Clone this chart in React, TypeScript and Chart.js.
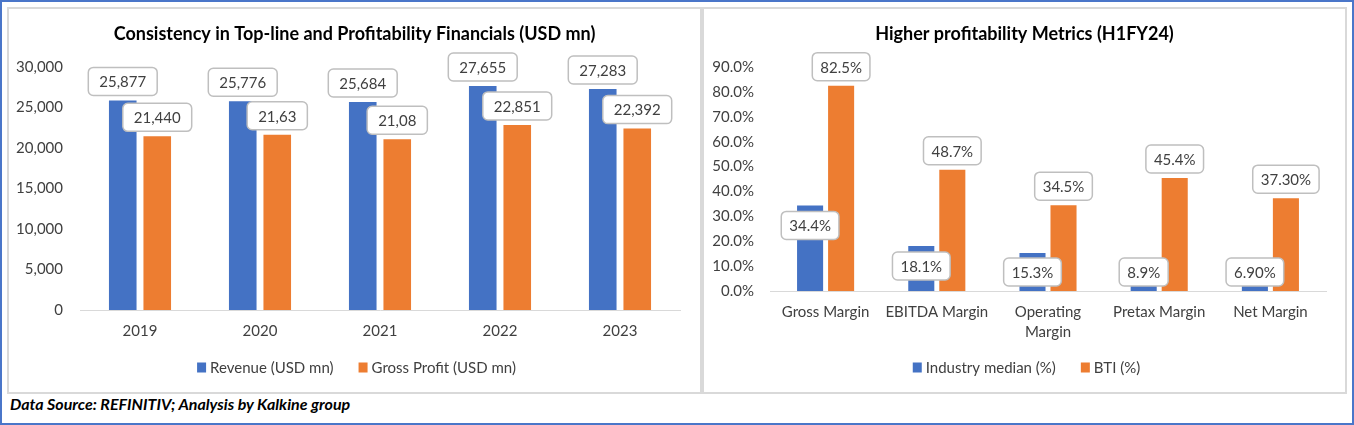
import React, { useEffect, useRef } from "react";
import { Chart, registerables } from "chart.js";

Chart.register(...registerables);

const FONT = "Lato, 'Noto Sans', sans-serif";

// ---- Left chart data ----
const years = ["2019", "2020", "2021", "2022", "2023"];
const revenue = [25877, 25776, 25684, 27655, 27283];
const grossProfit = [21440, 21635, 21085, 22851, 22392];
const revenueLabels = ["25,877", "25,776", "25,684", "27,655", "27,283"];
const grossProfitLabels = ["21,440", "21,63", "21,08", "22,851", "22,392"];

// ---- Right chart data ----
const metrics: (string | string[])[] = [
  "Gross Margin",
  "EBITDA Margin",
  ["Operating", "Margin"],
  "Pretax Margin",
  "Net Margin",
];
const industryMedian = [34.4, 18.1, 15.3, 8.9, 6.9];
const bti = [82.5, 48.7, 34.5, 45.4, 37.3];
const industryLabels = ["34.4%", "18.1%", "15.3%", "8.9%", "6.90%"];
const btiLabels = ["82.5%", "48.7%", "34.5%", "45.4%", "37.30%"];

const BLUE = "#4472C4";
const ORANGE = "#ED7D31";
const TEXT = "#404040";

function makeLabelPlugin(
  labelSets: string[][],
  modes: ("above" | "inside")[],
  padX: number
) {
  return {
    id: "boxLabels",
    afterDatasetsDraw(chart: any) {
      const ctx: CanvasRenderingContext2D = chart.ctx;
      const bottom = chart.chartArea.bottom;
      ctx.save();
      ctx.font = `15px ${FONT}`;
      ctx.textAlign = "center";
      ctx.textBaseline = "middle";
      labelSets.forEach((labels, di) => {
        const meta = chart.getDatasetMeta(di);
        meta.data.forEach((bar: any, i: number) => {
          const text = labels[i];
          const w = ctx.measureText(text).width + padX * 2;
          const h = 28;
          let cy: number;
          if (modes[di] === "above") cy = bar.y - 5 - h / 2;
          else cy = Math.min(bar.y + 20, bottom - 5 - h / 2);
          const x0 = bar.x - w / 2;
          const y0 = cy - h / 2;
          ctx.beginPath();
          (ctx as any).roundRect(x0, y0, w, h, 5);
          ctx.fillStyle = "#ffffff";
          ctx.fill();
          ctx.lineWidth = 1.5;
          ctx.strokeStyle = "#bfbfbf";
          ctx.stroke();
          ctx.fillStyle = TEXT;
          ctx.fillText(text, bar.x, cy + 1);
        });
      });
      ctx.restore();
    },
  };
}

function makeDecorPlugin(title: string, legendShift: number) {
  return {
    id: "decor",
    afterDraw(chart: any) {
      const ctx: CanvasRenderingContext2D = chart.ctx;
      const W = chart.width;
      ctx.save();
      ctx.textBaseline = "middle";
      ctx.textAlign = "center";
      ctx.font = `bold 18px ${FONT}`;
      ctx.fillStyle = "#000000";
      ctx.fillText(title, W / 2, 25);

      ctx.font = `15px ${FONT}`;
      const items = chart.data.datasets.map((ds: any) => ({
        label: ds.label as string,
        color: ds.backgroundColor as string,
        w: ctx.measureText(ds.label).width,
      }));
      const box = 9;
      const gap = 4;
      const itemGap = 25;
      let total = 0;
      items.forEach((it: any, i: number) => {
        total += box + gap + it.w + (i > 0 ? itemGap : 0);
      });
      let x = W / 2 - total / 2 + legendShift;
      const y = 358;
      ctx.textAlign = "left";
      items.forEach((it: any) => {
        ctx.fillStyle = it.color;
        ctx.fillRect(x, y - 4.5, box, box + 1);
        x += box + gap;
        ctx.fillStyle = TEXT;
        ctx.fillText(it.label, x, y + 1);
        x += it.w + itemGap;
      });
      ctx.restore();
    },
  };
}

export default function App() {
  const leftRef = useRef<HTMLCanvasElement | null>(null);
  const rightRef = useRef<HTMLCanvasElement | null>(null);

  useEffect(() => {
    const tickFont = { family: FONT, size: 15, lineHeight: 1.33 };

    const left = new Chart(leftRef.current as HTMLCanvasElement, {
      type: "bar",
      data: {
        labels: years,
        datasets: [
          {
            label: "Revenue (USD mn)",
            data: revenue,
            backgroundColor: BLUE,
            categoryPercentage: 0.575,
            barPercentage: 0.8,
          },
          {
            label: "Gross Profit (USD mn)",
            data: grossProfit,
            backgroundColor: ORANGE,
            categoryPercentage: 0.575,
            barPercentage: 0.8,
          },
        ],
      },
      options: {
        responsive: false,
        animation: false,
        devicePixelRatio: 1,
        layout: { padding: { top: 58, right: 20, left: 0, bottom: 0 } },
        plugins: {
          legend: { display: false },
          title: { display: false },
          tooltip: { enabled: false },
        },
        scales: {
          x: {
            grid: { display: false, drawTicks: false },
            border: { display: true, color: "#d9d9d9", width: 1 },
            ticks: { color: TEXT, font: tickFont, padding: 11 },
            afterFit: (s: any) => {
              s.height = 82;
            },
          },
          y: {
            min: 0,
            max: 30000,
            grid: { display: false, drawTicks: false },
            border: { display: false },
            ticks: {
              stepSize: 5000,
              color: TEXT,
              font: tickFont,
              padding: 17,
              callback: (v: any) => Number(v).toLocaleString("en-US"),
            },
            afterFit: (s: any) => {
              s.width = 71;
            },
          },
        },
      },
      plugins: [
        makeLabelPlugin([revenueLabels, grossProfitLabels], ["above", "above"], 11),
        makeDecorPlugin("Consistency in Top-line and Profitability Financials (USD mn)", 2),
      ],
    } as any);

    const right = new Chart(rightRef.current as HTMLCanvasElement, {
      type: "bar",
      data: {
        labels: metrics,
        datasets: [
          {
            label: "Industry median (%)",
            data: industryMedian,
            backgroundColor: BLUE,
            categoryPercentage: 0.558,
            barPercentage: 0.84,
          },
          {
            label: "BTI (%)",
            data: bti,
            backgroundColor: ORANGE,
            categoryPercentage: 0.558,
            barPercentage: 0.84,
          },
        ],
      },
      options: {
        responsive: false,
        animation: false,
        devicePixelRatio: 1,
        layout: { padding: { top: 58, right: 19, left: 0, bottom: 0 } },
        plugins: {
          legend: { display: false },
          title: { display: false },
          tooltip: { enabled: false },
        },
        scales: {
          x: {
            grid: { display: false, drawTicks: false },
            border: { display: true, color: "#d9d9d9", width: 1 },
            ticks: { color: TEXT, font: tickFont, padding: 11, maxRotation: 0, autoSkip: false },
            afterFit: (s: any) => {
              s.height = 101;
            },
          },
          y: {
            min: 0,
            max: 90,
            grid: { display: false, drawTicks: false },
            border: { display: false },
            ticks: {
              stepSize: 10,
              color: TEXT,
              font: tickFont,
              padding: 16,
              callback: (v: any) => Number(v).toFixed(1) + "%",
            },
            afterFit: (s: any) => {
              s.width = 66;
            },
          },
        },
      },
      plugins: [
        makeLabelPlugin([industryLabels, btiLabels], ["inside", "above"], 8),
        makeDecorPlugin("Higher profitability Metrics (H1FY24)", 2),
      ],
    } as any);

    return () => {
      left.destroy();
      right.destroy();
    };
  }, []);

  return (
    <div
      style={{
        position: "absolute",
        left: 0,
        top: 0,
        width: 1354,
        height: 425,
        boxSizing: "border-box",
        border: "2px solid #4a76c9",
        background: "#ffffff",
        fontFamily: FONT,
        overflow: "hidden",
      }}
    >
      <div
        style={{
          position: "absolute",
          left: 5,
          top: 5,
          width: 695,
          height: 387,
          boxSizing: "border-box",
          border: "2px solid #d9d9d9",
        }}
      >
        <canvas ref={leftRef} width={691} height={383} style={{ display: "block", width: 691, height: 383 }} />
      </div>
      <div
        style={{
          position: "absolute",
          left: 700,
          top: 5,
          width: 645,
          height: 387,
          boxSizing: "border-box",
          border: "2px solid #d9d9d9",
        }}
      >
        <canvas ref={rightRef} width={641} height={383} style={{ display: "block", width: 641, height: 383 }} />
      </div>
      <div
        style={{
          position: "absolute",
          left: 8,
          top: 393,
          height: 18,
          lineHeight: "18px",
          fontSize: 16,
          fontWeight: "bold",
          fontStyle: "italic",
          color: "#000000",
          whiteSpace: "nowrap",
        }}
      >
        Data Source: REFINITIV; Analysis by Kalkine group
      </div>
    </div>
  );
}
